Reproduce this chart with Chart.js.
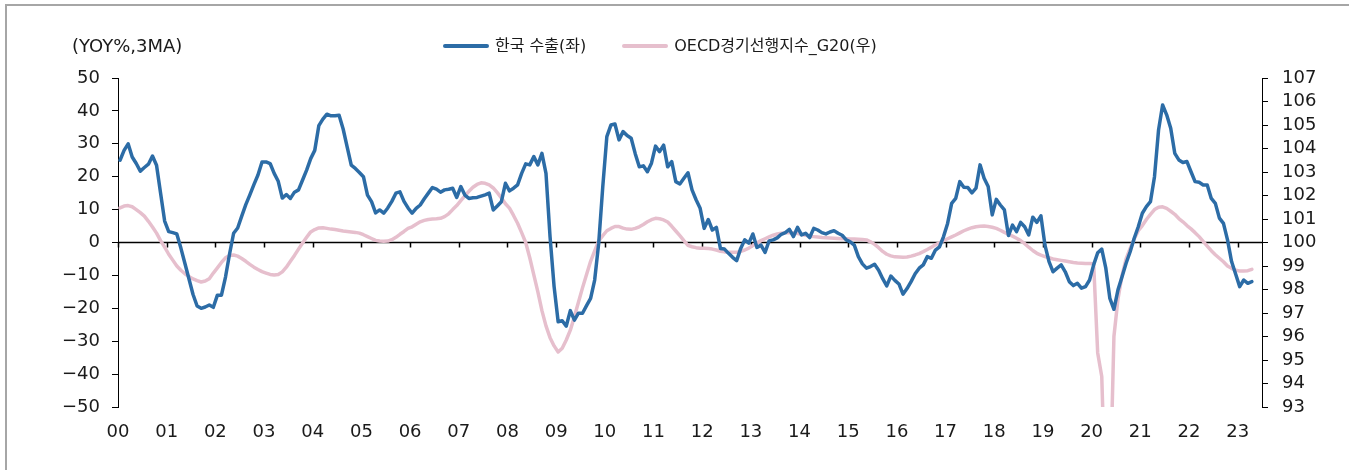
<!DOCTYPE html>
<html>
<head>
<meta charset="utf-8">
<script src="https://cdn.jsdelivr.net/npm/chart.js@4.4.0/dist/chart.umd.min.js"></script>
<style>
  html, body { margin: 0; padding: 0; background: #fff; }
  #wrap { position: relative; width: 1349px; height: 470px; overflow: hidden;
          font-family: "DejaVu Sans", "Noto Sans CJK KR", sans-serif; color: #1a1a1a; }
  #frame { position: absolute; left: 5px; top: 4px; width: 2000px; height: 2000px;
           border-left: 2px solid #a6a6a6; border-top: 2px solid #a6a6a6; }
  #unit { position: absolute; left: 72px; top: 35px; font-size: 18px; line-height: 22px; }
  #legend { position: absolute; left: 443px; top: 35px; display: flex; align-items: center;
            font-size: 16px; line-height: 22px; }
  .item { display: flex; align-items: center; margin-right: 36px; }
  .swatch { width: 46px; height: 4px; border-radius: 2px; margin-right: 6px; }
  canvas { position: absolute; left: 0; top: 0; }
</style>
</head>
<body>
<div id="wrap">
  <div id="frame"></div>
  <canvas id="chart" width="1349" height="470"></canvas>
  <div id="unit">(YOY%,3MA)</div>
  <div id="legend"></div>
</div>
<script>
// 한국 수출 증가율 (YoY %, 3MA), 2000.01 ~ 2023.04
const exportsYoY = [
  25, 28, 30, 26, 24, 21.7, 22.8, 23.8, 26.3, 23.5, 15, 6.5,
  3.3, 3, 2.6, -1.7, -6.4, -11.1, -15.8, -19.3, -20, -19.6, -19, -19.7,
  -16, -16, -10.5, -3.5, 2.8, 4.4, 8, 11.5, 14.5, 17.6, 20.5, 24.5,
  24.5, 24, 21, 18.6, 13.5, 14.6, 13.4, 15.3, 16, 19, 22, 25.5,
  28, 35.5, 37.5, 39, 38.5, 38.5, 38.7, 34.5, 29, 23.5, 22.5, 21.3,
  20, 14.4, 12.4, 9, 9.9, 8.9, 10.5, 12.5, 15, 15.4, 12.5, 10.5,
  8.9, 10.4, 11.4, 13.3, 15, 16.7, 16.2, 15.3, 16, 16.2, 16.5, 13.7,
  17, 14.4, 13.4, 13.6, 13.7, 14.1, 14.5, 15, 9.9, 11.1, 12.4, 18,
  15.7, 16.5, 17.5, 21, 23.9, 23.6, 26.1, 23.6, 27.1, 21, 1.8, -13.4,
  -24.1, -23.8, -25.4, -20.7, -23.6, -21.5, -21.5, -19.2, -17, -11.4, -0.2, 17,
  32.2, 35.7, 36, 31.2, 33.7, 32.5, 31.7, 27, 23, 23.3, 21.5, 24.1,
  29.3, 27.6, 29.6, 23, 24.6, 18.5, 17.8, 19.5, 21.2, 16, 13, 10.4,
  4.3, 7, 3.8, 4.6, -1.8, -2, -3.3, -4.5, -5.5, -1.8, 0.8, -0.2,
  2.6, -1.5, -0.8, -3, 0.5, 0.8, 1.4, 2.5, 3, 4, 1.8, 4.6,
  2.3, 2.8, 1.5, 4.3, 3.8, 3, 2.6, 3.2, 3.6, 2.8, 2.2, 0.8,
  0.2, -0.8, -4.3, -6.5, -7.8, -7.3, -6.6, -8.4, -11, -13.2, -10.2, -11.5,
  -12.6, -15.7, -14, -11.9, -9.5, -7.8, -6.8, -4.3, -4.8, -2.3, -1.3, 1.8,
  5.8, 11.9, 13.4, 18.5, 16.8, 16.7, 15.1, 16.5, 23.6, 19.5, 17, 8.4,
  13.1, 11.4, 9.9, 2.1, 5.3, 3.3, 6.1, 4.8, 2.3, 7.7, 6.1, 8.1,
  -0.8, -5.8, -8.9, -7.8, -6.8, -8.9, -11.9, -13.1, -12.4, -13.9, -13.4, -11.4,
  -6.8, -3.1, -2, -7.8, -17, -20.3, -14.4, -10.4, -6.3, -2.8, 1.3, 4.8,
  8.9, 10.9, 12.4, 20, 34.2, 41.8, 38.8, 34.7, 27.1, 25.1, 24.3, 24.6,
  21.5, 18.5, 18.3, 17.5, 17.5, 13.4, 11.9, 7.4, 5.8, 0.8, -5.8, -9.6,
  -13.4, -11.4, -12.4, -11.9
];

// OECD 경기선행지수 G20, 2000.01 ~ 2023.04
const oecdCli = [
  101.47, 101.55, 101.57, 101.52, 101.40, 101.27, 101.12, 100.90, 100.66, 100.40, 100.08, 99.80,
  99.50, 99.25, 99.00, 98.82, 98.67, 98.55, 98.45, 98.38, 98.32, 98.36, 98.46, 98.70,
  98.92, 99.15, 99.35, 99.45, 99.47, 99.42, 99.32, 99.20, 99.07, 98.95, 98.85, 98.76,
  98.70, 98.64, 98.62, 98.64, 98.75, 98.95, 99.20, 99.45, 99.72, 99.98, 100.22, 100.45,
  100.55, 100.62, 100.63, 100.60, 100.57, 100.55, 100.52, 100.49, 100.47, 100.45, 100.43, 100.40,
  100.33, 100.25, 100.17, 100.09, 100.06, 100.05, 100.06, 100.12, 100.22, 100.35, 100.47, 100.60,
  100.67, 100.78, 100.88, 100.94, 100.98, 101.00, 101.01, 101.03, 101.10, 101.22, 101.40, 101.57,
  101.78, 101.98, 102.18, 102.35, 102.47, 102.54, 102.52, 102.45, 102.32, 102.12, 101.90, 101.65,
  101.46, 101.15, 100.82, 100.42, 100.00, 99.35, 98.62, 97.90, 97.10, 96.45, 95.95, 95.60,
  95.34, 95.50, 95.85, 96.27, 96.84, 97.46, 98.07, 98.64, 99.20, 99.64, 100.07, 100.29,
  100.50, 100.60, 100.68, 100.68, 100.61, 100.57, 100.56, 100.60, 100.67, 100.77, 100.88, 100.97,
  101.03, 101.01, 100.96, 100.87, 100.69, 100.49, 100.29, 100.08, 99.88, 99.82, 99.78, 99.76,
  99.76, 99.74, 99.72, 99.68, 99.63, 99.60, 99.58, 99.58, 99.59, 99.62, 99.68, 99.76,
  99.87, 99.98, 100.08, 100.16, 100.24, 100.31, 100.36, 100.39, 100.41, 100.42, 100.41, 100.38,
  100.35, 100.31, 100.27, 100.25, 100.23, 100.21, 100.20, 100.19, 100.18, 100.17, 100.16, 100.16,
  100.15, 100.15, 100.14, 100.13, 100.11, 100.03, 99.92, 99.78, 99.62, 99.50, 99.43, 99.39,
  99.38, 99.37, 99.38, 99.42, 99.47, 99.53, 99.61, 99.70, 99.80, 99.90, 99.99, 100.08,
  100.16, 100.24, 100.32, 100.41, 100.50, 100.57, 100.63, 100.67, 100.69, 100.70, 100.68, 100.65,
  100.60, 100.52, 100.43, 100.35, 100.27, 100.18, 100.08, 99.95, 99.80, 99.66, 99.54, 99.46,
  99.40, 99.35, 99.30, 99.27, 99.24, 99.21, 99.18, 99.15, 99.13, 99.12, 99.11, 99.11,
  99.10, 95.30, 94.30, 88.50, 89.00, 96.00, 97.60, 98.60, 99.30, 99.75, 100.15, 100.50,
  100.72, 100.98, 101.20, 101.40, 101.50, 101.52, 101.45, 101.33, 101.20, 101.02, 100.88, 100.72,
  100.58, 100.42, 100.25, 100.05, 99.85, 99.65, 99.48, 99.33, 99.18, 99.00, 98.90, 98.82,
  98.79, 98.79, 98.80, 98.86
];

const yearLabels = ['00', '01', '02', '03', '04', '05', '06', '07', '08', '09', '10', '11',
                    '12', '13', '14', '15', '16', '17', '18', '19', '20', '21', '22', '23'];
const seriesNames = ['한국 수출(좌)', 'OECD경기선행지수_G20(우)'];

const FONT = '"DejaVu Sans", "Noto Sans CJK KR", sans-serif';
const BLUE = '#2c6ca6';
const PINK = '#e6bfcd';

// months are plotted at the middle of each month
const toPoints = arr => arr.map((v, i) => ({ x: i + 0.5, y: v }));
const minus = v => (v < 0 ? '\u2212' + Math.abs(v) : String(v));

// zero line of the left axis with year tick marks hanging below it
const zeroAxis = {
  id: 'zeroAxis',
  beforeDatasetsDraw(chart) {
    const { ctx, scales: { x, y } } = chart;
    const y0 = y.getPixelForValue(0);
    ctx.save();
    ctx.strokeStyle = '#000';
    ctx.lineWidth = 1.5;
    ctx.beginPath();
    ctx.moveTo(x.left, y0);
    ctx.lineTo(x.right, y0);
    x.ticks.forEach(t => {
      const px = Math.round(x.getPixelForValue(t.value)) + 0.5;
      ctx.moveTo(px, y0);
      ctx.lineTo(px, y0 + 5);
    });
    ctx.stroke();
    ctx.restore();
  }
};

const chart = new Chart(document.getElementById('chart'), {
  type: 'line',
  data: {
    datasets: [
      { label: seriesNames[0], data: toPoints(exportsYoY), yAxisID: 'y',
        borderColor: BLUE, backgroundColor: BLUE, borderWidth: 3.5, order: 1 },
      { label: seriesNames[1], data: toPoints(oecdCli), yAxisID: 'y1',
        borderColor: PINK, backgroundColor: PINK, borderWidth: 3.5, order: 2 }
    ]
  },
  options: {
    responsive: false,
    animation: false,
    layout: { padding: { top: 78, left: 0, right: 0, bottom: 0 } },
    elements: {
      point: { radius: 0 },
      line: { tension: 0, borderJoinStyle: 'round', borderCapStyle: 'round' }
    },
    plugins: { legend: { display: false }, tooltip: { enabled: false } },
    scales: {
      x: {
        type: 'linear', min: 0, max: 282,
        grid: { display: false }, border: { display: false },
        // one tick at the start of every year
        afterBuildTicks: s => { s.ticks = yearLabels.map((_, i) => ({ value: i * 12 })); },
        afterFit: s => { s.height = 63; },
        ticks: { autoSkip: false, maxRotation: 0, padding: 7,
                 color: '#1a1a1a', font: { family: FONT, size: 18 },
                 callback: v => yearLabels[v / 12] }
      },
      y: {
        position: 'left', min: -50, max: 50,
        afterFit: s => { s.width = 118; },
        grid: { drawOnChartArea: false, tickLength: 6, color: '#000' },
        border: { color: '#000', width: 1 },
        ticks: { stepSize: 10, autoSkip: false, padding: 12, color: '#1a1a1a',
                 font: { family: FONT, size: 18 }, callback: v => minus(v) }
      },
      y1: {
        position: 'right', min: 93, max: 107,
        afterFit: s => { s.width = 87; },
        grid: { drawOnChartArea: false, tickLength: 6, color: '#000' },
        border: { color: '#000', width: 1 },
        ticks: { stepSize: 1, autoSkip: false, padding: 14, color: '#1a1a1a',
                 font: { family: FONT, size: 18 } }
      }
    }
  },
  plugins: [zeroAxis]
});

// legend built from the chart's datasets
const legend = document.getElementById('legend');
chart.data.datasets.forEach(ds => {
  const item = document.createElement('div');
  item.className = 'item';
  const sw = document.createElement('span');
  sw.className = 'swatch';
  sw.style.background = ds.borderColor;
  const txt = document.createElement('span');
  txt.textContent = ds.label;
  item.appendChild(sw);
  item.appendChild(txt);
  legend.appendChild(item);
});
</script>
</body>
</html>
